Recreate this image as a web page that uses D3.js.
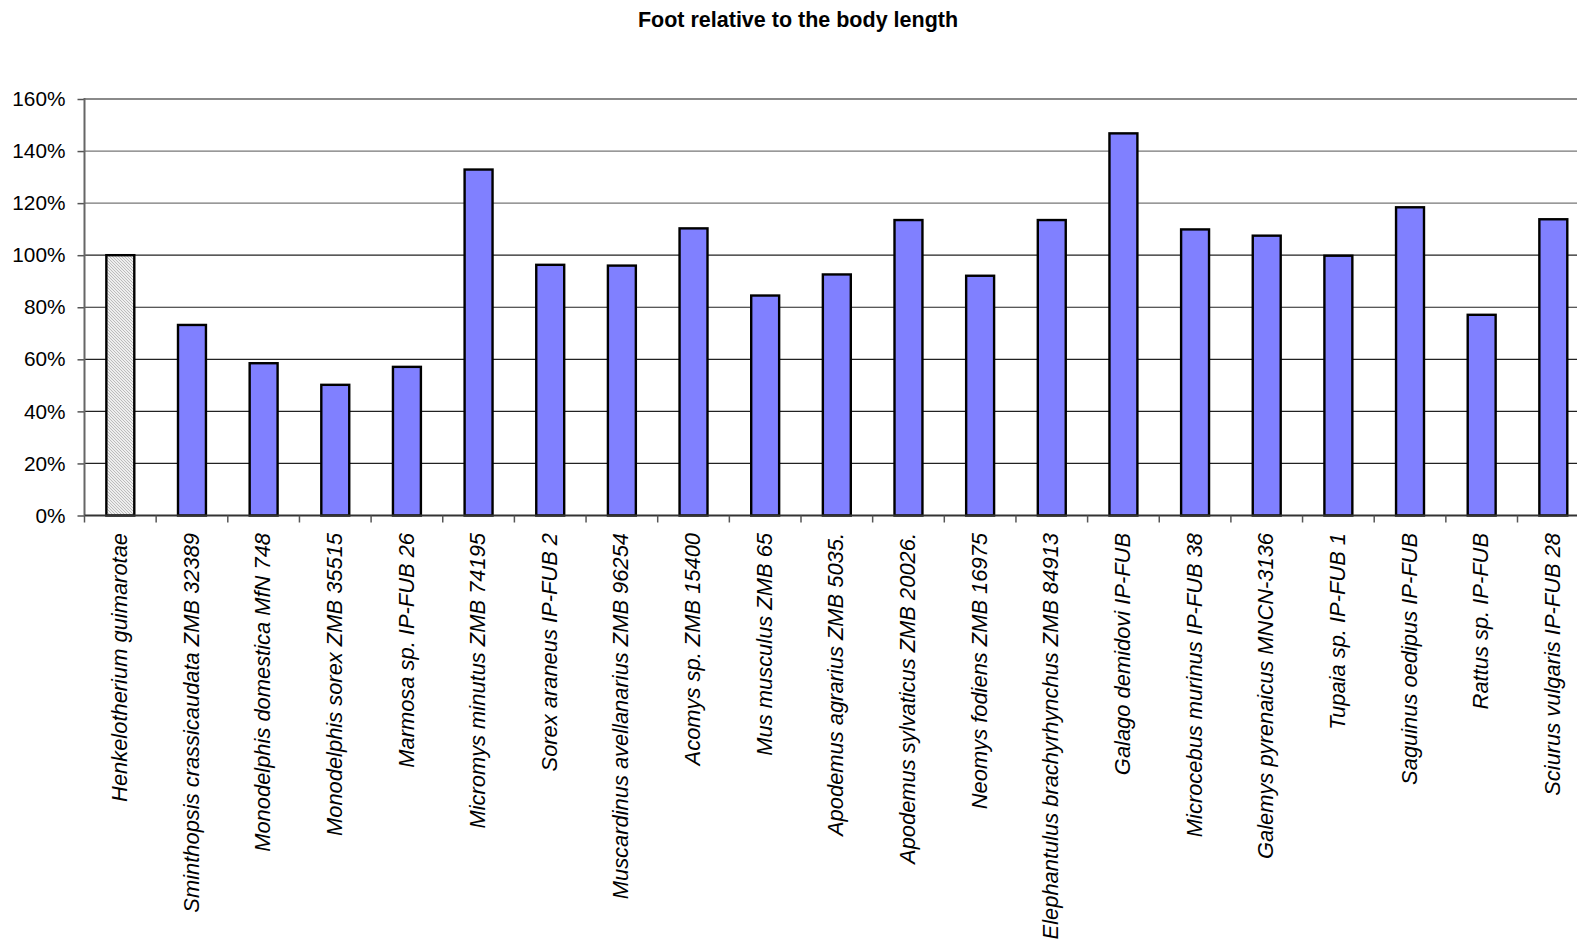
<!DOCTYPE html>
<html>
<head>
<meta charset="utf-8">
<script src="https://cdn.jsdelivr.net/npm/d3@7"></script>
<style>
  html, body { margin: 0; padding: 0; background: #fff; }
  svg { display: block; font-family: "Liberation Sans", Arial, sans-serif; }
</style>
</head>
<body>
<svg id="chart" width="1577" height="942"></svg>
<script>
// Foot length as a share of body length, per specimen
const taxa = [
  "Henkelotherium guimarotae",
  "Sminthopsis crassicaudata ZMB 32389",
  "Monodelphis domestica MfN 748",
  "Monodelphis sorex ZMB 35515",
  "Marmosa sp. IP-FUB 26",
  "Micromys minutus ZMB 74195",
  "Sorex araneus IP-FUB 2",
  "Muscardinus avellanarius ZMB 96254",
  "Acomys sp. ZMB 15400",
  "Mus musculus ZMB 65",
  "Apodemus agrarius ZMB 5035.",
  "Apodemus sylvaticus ZMB 20026.",
  "Neomys fodiens ZMB 16975",
  "Elephantulus brachyrhynchus ZMB 84913",
  "Galago demidovi IP-FUB",
  "Microcebus murinus IP-FUB 38",
  "Galemys pyrenaicus MNCN-3136",
  "Tupaia sp. IP-FUB 1",
  "Saguinus oedipus IP-FUB",
  "Rattus sp. IP-FUB",
  "Sciurus vulgaris IP-FUB 28"
];
const footRatio = [
  1.000, 0.732, 0.585, 0.502, 0.571, 1.329, 0.963, 0.960, 1.103, 0.845, 0.926,
  1.135, 0.921, 1.135, 1.468, 1.099, 1.075, 0.998, 1.184, 0.771, 1.138
];
// fossil taxon drawn with a hatched fill
const fossilTaxa = ["Henkelotherium guimarotae"];
const yTicks = [0, 0.2, 0.4, 0.6, 0.8, 1.0, 1.2, 1.4, 1.6];

const svg = d3.select("#chart");
const plotLeft = 84.5, plotTop = 99, plotBottom = 515.5, step = 71.65;

const x = d3.scaleBand()
  .domain(taxa)
  .range([plotLeft, plotLeft + step * taxa.length])
  .padding(0);
const y = d3.scaleLinear().domain([0, 1.6]).range([plotBottom, plotTop]);
const barW = x.bandwidth() * 0.39;
const plotRight = x.range()[1];

// hatch pattern
const defs = svg.append("defs");
const pat = defs.append("pattern")
  .attr("id", "hatch")
  .attr("patternUnits", "userSpaceOnUse")
  .attr("width", 3).attr("height", 3);
pat.append("rect").attr("width", 3).attr("height", 3).attr("fill", "#eeeeee");
pat.append("path").attr("d", "M-1,-1 L4,4 M-1,2 L1,4 M2,-1 L4,1")
  .attr("stroke", "#ababab").attr("stroke-width", 0.75);

// title
svg.append("text")
  .attr("x", 798).attr("y", 26.5)
  .attr("text-anchor", "middle")
  .attr("font-weight", "bold")
  .attr("font-size", "21.5px")
  .text("Foot relative to the body length");

// gridlines
const gridColor = d => (d === 1.6 ? "#8a8a8a" : (d >= 1.2 ? "#777" : "#222"));
svg.append("g").selectAll("line")
  .data(yTicks.filter(d => d > 0))
  .join("line")
  .attr("x1", plotLeft).attr("x2", plotRight)
  .attr("y1", d => y(d)).attr("y2", d => y(d))
  .attr("stroke", gridColor)
  .attr("stroke-width", d => (d === 1.6 ? 2 : 1.2));

// y axis
const yAxis = d3.axisLeft(y)
  .tickValues(yTicks)
  .tickFormat(d3.format(".0%"))
  .tickSize(7)
  .tickPadding(12);
const gy = svg.append("g").attr("transform", `translate(${plotLeft},0)`).call(yAxis);
gy.select(".domain").remove();
gy.selectAll(".tick line").attr("stroke", "#555").attr("stroke-width", 1.5);
gy.selectAll(".tick text")
  .attr("font-size", "20.8px")
  .attr("font-family", "'Liberation Sans', Arial, sans-serif")
  .attr("fill", "#000");
svg.append("line")
  .attr("x1", plotLeft).attr("x2", plotLeft)
  .attr("y1", plotTop - 1).attr("y2", plotBottom)
  .attr("stroke", "#666").attr("stroke-width", 2);

// bars
svg.append("g").selectAll("rect")
  .data(taxa.map((t, i) => ({ taxon: t, value: footRatio[i] })))
  .join("rect")
  .attr("x", d => x(d.taxon) + (x.bandwidth() - barW) / 2)
  .attr("y", d => y(d.value))
  .attr("width", barW)
  .attr("height", d => y(0) - y(d.value))
  .attr("fill", d => (fossilTaxa.includes(d.taxon) ? "url(#hatch)" : "#8080ff"))
  .attr("stroke", "#000")
  .attr("stroke-width", 2.4);

// x axis with boundary ticks
svg.append("line")
  .attr("x1", plotLeft).attr("x2", plotRight)
  .attr("y1", plotBottom).attr("y2", plotBottom)
  .attr("stroke", "#333").attr("stroke-width", 2);
svg.append("g").selectAll("line")
  .data(d3.range(taxa.length + 1))
  .join("line")
  .attr("x1", i => plotLeft + i * x.step()).attr("x2", i => plotLeft + i * x.step())
  .attr("y1", plotBottom).attr("y2", plotBottom + 7)
  .attr("stroke", "#555").attr("stroke-width", 1.5);

// category labels
svg.append("g").selectAll("text")
  .data(taxa)
  .join("text")
  .attr("transform", d => `translate(${x(d) + x.bandwidth() / 2},${plotBottom + 17.5}) rotate(-90)`)
  .attr("text-anchor", "end")
  .attr("dy", "0.3em")
  .attr("font-style", "italic")
  .attr("font-size", "21.9px")
  .text(d => d);
</script>
</body>
</html>
